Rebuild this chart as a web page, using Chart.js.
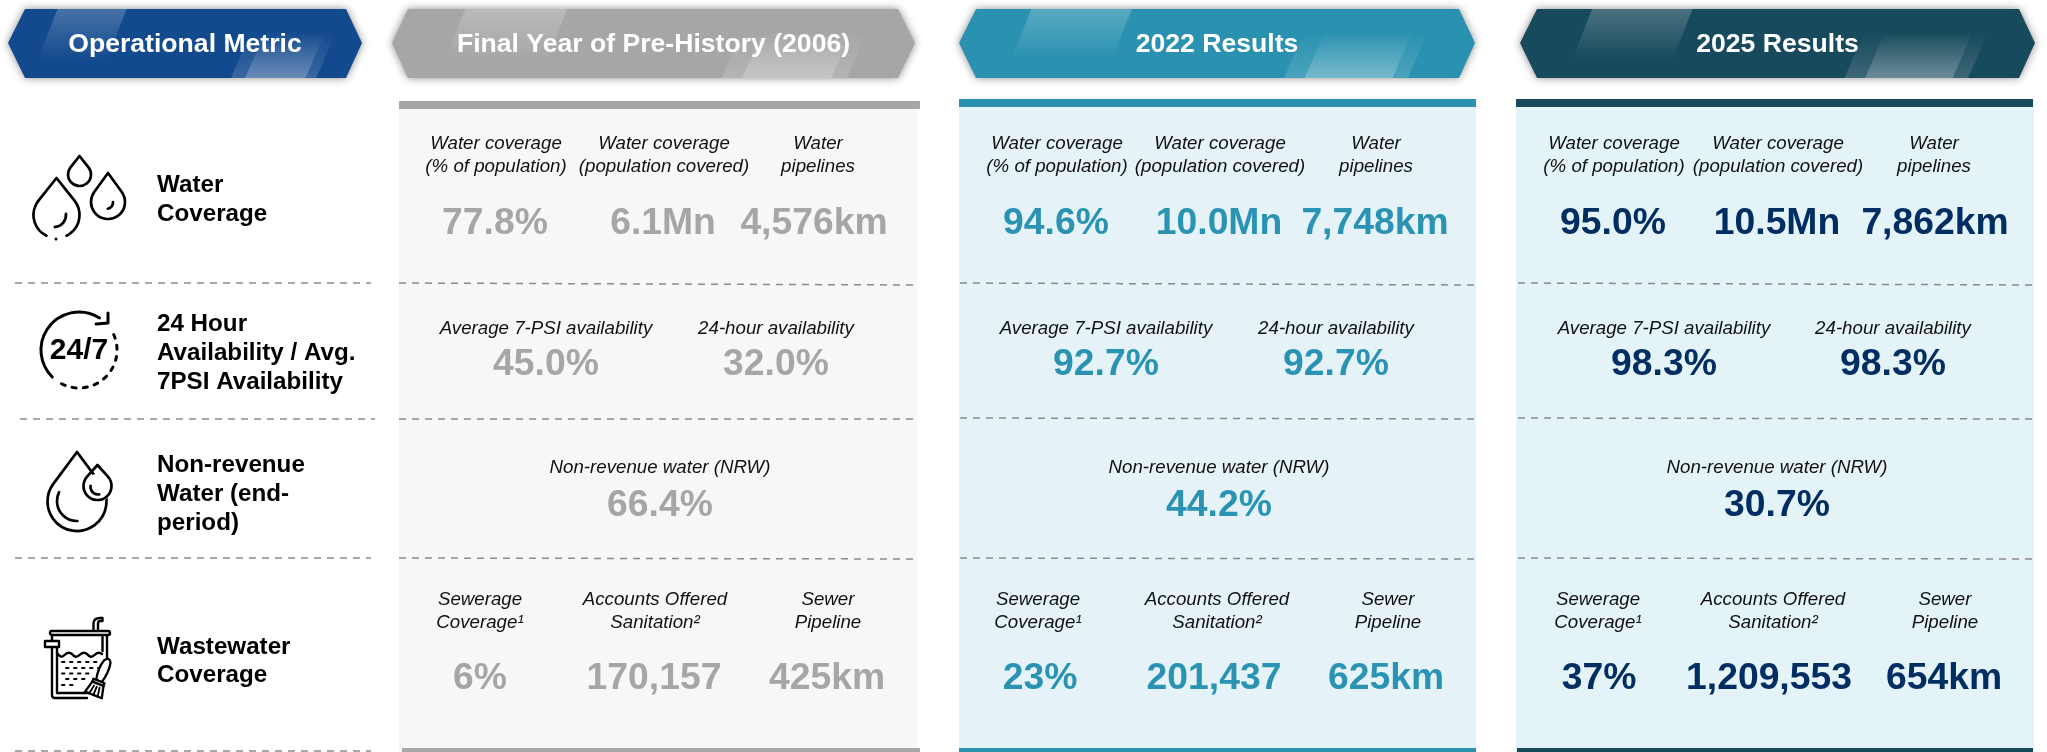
<!DOCTYPE html>
<html>
<head>
<meta charset="utf-8">
<title>Operational metrics</title>
<style>
  html, body { margin: 0; padding: 0; background: #fff; overflow: hidden; }
  canvas { display: block; }
</style>
<script src="https://cdn.jsdelivr.net/npm/chart.js@4/dist/chart.umd.min.js"></script>
</head>
<body>
<canvas id="chart" width="2047" height="752"></canvas>
<script>
// ---- data ----
const columnTitles = ['Operational Metric', 'Final Year of Pre-History (2006)', '2022 Results', '2025 Results'];
const metricNames = [
  ['Water', 'Coverage'],
  ['24 Hour', 'Availability / Avg.', '7PSI Availability'],
  ['Non-revenue', 'Water (end-', 'period)'],
  ['Wastewater', 'Coverage']
];
const cellLabels = [
  ['Water coverage\n(% of population)', 'Water coverage\n(population covered)', 'Water\npipelines'],
  ['Average 7-PSI availability', '24-hour availability'],
  ['Non-revenue water (NRW)'],
  ['Sewerage\nCoverage\u00B9', 'Accounts Offered\nSanitation\u00B2', 'Sewer\nPipeline']
];
const preHistoryValues = [['77.8%', '6.1Mn', '4,576km'], ['45.0%', '32.0%'], ['66.4%'], ['6%', '170,157', '425km']];
const results2022Values = [['94.6%', '10.0Mn', '7,748km'], ['92.7%', '92.7%'], ['44.2%'], ['23%', '201,437', '625km']];
const results2025Values = [['95.0%', '10.5Mn', '7,862km'], ['98.3%', '98.3%'], ['30.7%'], ['37%', '1,209,553', '654km']];

// ---- layout, in axis units (the axes run 0-2047 and 0-752) ----
const labelX = [
  [[496, 664, 818], [546, 776], [660], [480, 655, 828]],
  [[1057, 1220, 1376], [1106, 1336], [1219], [1038, 1217, 1388]],
  [[1614, 1778, 1934], [1664, 1893], [1777], [1598, 1773, 1945]]
];
const valueX = [
  [[495, 663, 814], [546, 776], [660], [480, 654, 827]],
  [[1056, 1219, 1375], [1106, 1336], [1219], [1040, 1214, 1386]],
  [[1613, 1777, 1935], [1664, 1893], [1777], [1599, 1769, 1944]]
];
const labelY = [143.5, 329, 468, 600];
const labelLineGap = 23;
const valueY = [224, 364.5, 506, 679];
const metricX = 157;
const metricY = [[185, 214], [324, 353, 382], [465, 494, 523], [647, 675]];
const banners = [
  { tipL: 8, shL: 25, shR: 346, tipR: 362, color: '#134a8e' },
  { tipL: 392, shL: 408, shR: 898, tipR: 915, color: '#a6a6a6' },
  { tipL: 959, shL: 976, shR: 1459, tipR: 1475, color: '#2a91b0' },
  { tipL: 1520, shL: 1537, shR: 2019, tipR: 2035, color: '#174a5c' }
];
const panels = [
  { left: 399, right: 917, barRight: 920, barTop: 101, footLeft: 402, fill: '#f7f7f7', bar: '#a6a6a6', ink: '#a6a6a6' },
  { left: 959, right: 1476, barRight: 1476, barTop: 99, footLeft: 959, fill: '#e5f3f8', bar: '#2a91b0', ink: '#2a93b3' },
  { left: 1516, right: 2034, barRight: 2033, barTop: 99, footLeft: 1517, fill: '#e3f3f7', bar: '#174a5c', ink: '#002d62' }
];
const dividerSegments = [
  [15, 283, 371, 283], [399, 283, 917, 285], [960, 283, 1476, 285], [1518, 283, 2034, 285],
  [20, 419, 375, 419], [399, 419, 917, 419], [960, 418, 1476, 419], [1518, 418, 2034, 419],
  [15, 558, 371, 558], [399, 558, 917, 559], [960, 558, 1476, 559], [1518, 558, 2034, 559],
  [15, 751, 371, 751]
];

const FONT = '"Liberation Sans", Arial, sans-serif';
const panelValues = [preHistoryValues, results2022Values, results2025Values];

function textPoints(xTable, yList, textTable) {
  const pts = [];
  textTable.forEach(function (row, r) {
    row.forEach(function (txt, c) {
      pts.push({ x: xTable[r][c], y: yList[r], text: txt });
    });
  });
  return pts;
}

const datasets = [];
dividerSegments.forEach(function (s) {
  datasets.push({
    type: 'line', kind: 'divider',
    data: [{ x: s[0], y: s[1] }, { x: s[2], y: s[3] }],
    borderColor: '#8a8a8a', borderWidth: 1.5, borderDash: [7, 6], pointRadius: 0, fill: false
  });
});
panels.forEach(function (p, i) {
  datasets.push({ kind: 'labels', data: textPoints(labelX[i], labelY, cellLabels), pointRadius: 0 });
  datasets.push({ kind: 'values', ink: p.ink, data: textPoints(valueX[i], valueY, panelValues[i]), pointRadius: 0 });
});

function drawBanner(ctx, sx, sy, b, title) {
  const top = sy(9), bot = sy(78), mid = sy(43);
  const L = sx(b.tipL), R = sx(b.tipR), w = R - L;
  function shape() {
    ctx.beginPath();
    ctx.moveTo(L, mid);
    ctx.lineTo(sx(b.shL), top);
    ctx.lineTo(sx(b.shR), top);
    ctx.lineTo(R, mid);
    ctx.lineTo(sx(b.shR), bot);
    ctx.lineTo(sx(b.shL), bot);
    ctx.closePath();
  }
  ctx.save();
  ctx.shadowColor = 'rgba(0,0,0,0.45)';
  ctx.shadowBlur = 9;
  ctx.fillStyle = b.color;
  shape();
  ctx.fill();
  ctx.restore();

  // glass streaks
  ctx.save();
  shape();
  ctx.clip();
  const lean = 20;
  let g = ctx.createLinearGradient(0, top, 0, sy(60));
  g.addColorStop(0, 'rgba(255,255,255,0.22)');
  g.addColorStop(1, 'rgba(255,255,255,0)');
  ctx.fillStyle = g;
  ctx.beginPath();
  ctx.moveTo(L + w * 0.14, top);
  ctx.lineTo(L + w * 0.335, top);
  ctx.lineTo(L + w * 0.335 - lean, sy(60));
  ctx.lineTo(L + w * 0.14 - lean, sy(60));
  ctx.fill();
  function lowerStreak(a, b2, alpha) {
    g = ctx.createLinearGradient(0, sy(32), 0, bot);
    g.addColorStop(0, 'rgba(255,255,255,0)');
    g.addColorStop(1, 'rgba(255,255,255,' + alpha + ')');
    ctx.fillStyle = g;
    ctx.beginPath();
    ctx.moveTo(L + w * a + lean, sy(32));
    ctx.lineTo(L + w * b2 + lean, sy(32));
    ctx.lineTo(L + w * b2, bot);
    ctx.lineTo(L + w * a, bot);
    ctx.fill();
  }
  lowerStreak(0.63, 0.87, 0.16);
  lowerStreak(0.67, 0.84, 0.24);
  ctx.restore();

  ctx.fillStyle = '#fff';
  ctx.font = 'bold 26.6px ' + FONT;
  ctx.textAlign = 'center';
  ctx.textBaseline = 'middle';
  ctx.fillText(title, (L + R) / 2, sy(45));
}

// cx, tip, r, bottom in pixels. gap = leave an opening at the bottom
function dropPath(ctx, cx, tip, bottom, r, gap) {
  const cy = bottom - r;
  const a = Math.acos(r / (cy - tip));
  const right = -Math.PI / 2 + a;
  const left = -Math.PI / 2 - a + Math.PI * 2;
  ctx.beginPath();
  if (gap) {
    ctx.arc(cx, cy, r, Math.PI / 2 + gap, left);
    ctx.lineTo(cx, tip);
    ctx.lineTo(cx + r * Math.cos(right), cy + r * Math.sin(right));
    ctx.arc(cx, cy, r, right, Math.PI / 2 - gap);
  } else {
    ctx.moveTo(cx, tip);
    ctx.arc(cx, cy, r, right, left);
    ctx.closePath();
  }
  ctx.stroke();
}

function drawIcons(ctx, sx, sy) {
  ctx.save();
  ctx.strokeStyle = '#000';
  ctx.fillStyle = '#000';
  ctx.lineWidth = 2.7;
  ctx.lineCap = 'round';
  ctx.lineJoin = 'round';

  // water coverage
  dropPath(ctx, sx(56.5), sy(178), sy(238), sx(23), 0.45);
  ctx.beginPath(); ctx.arc(sx(56), sy(239), 1.5, 0, 7); ctx.fill();
  ctx.beginPath(); ctx.arc(sx(54), sy(215), 12, -0.1, 1.5); ctx.stroke();
  dropPath(ctx, sx(79.5), sy(156), sy(186), sx(11.5));
  dropPath(ctx, sx(108), sy(173), sy(219), sx(17));
  ctx.beginPath(); ctx.arc(sx(106), sy(202), 7, 0.0, 1.3); ctx.stroke();

  // 24/7
  const cx = sx(79), cy = sy(350), r = 38;
  ctx.lineWidth = 3;
  ctx.beginPath(); ctx.arc(cx, cy, r, -1.0, 2.35, true); ctx.stroke();
  ctx.beginPath();
  ctx.moveTo(sx(96), sy(324)); ctx.lineTo(sx(108), sy(323)); ctx.lineTo(sx(108), sy(313));
  ctx.stroke();
  ctx.save();
  ctx.setLineDash([4, 7.2]);
  ctx.beginPath(); ctx.arc(cx, cy, r, -0.42, 2.2); ctx.stroke();
  ctx.restore();
  ctx.font = 'bold 30px ' + FONT;
  ctx.textAlign = 'center';
  ctx.textBaseline = 'middle';
  ctx.fillText('24/7', cx, cy + 1);
  ctx.lineWidth = 2.7;

  // non-revenue water
  dropPath(ctx, sx(77), sy(452), sy(531), sx(29.5));
  ctx.beginPath(); ctx.arc(sx(77), sy(501), 20, 1.55, 3.6); ctx.stroke();
  ctx.save();
  ctx.fillStyle = '#fff';
  ctx.beginPath(); ctx.arc(sx(97.5), sy(488), 14, 0, 7); ctx.fill();
  ctx.restore();
  dropPath(ctx, sx(97.5), sy(465), sy(500), sx(14));
  ctx.beginPath(); ctx.arc(sx(98), sy(487), 7.5, 1.4, 3.3); ctx.stroke();

  // wastewater bucket
  ctx.lineWidth = 2.4;
  ctx.beginPath();
  ctx.moveTo(sx(52), sy(631)); ctx.lineTo(sx(108), sy(631));
  ctx.arc(sx(108), sy(633), 2, -1.57, 1.57);
  ctx.lineTo(sx(52), sy(635));
  ctx.arc(sx(52), sy(633), 2, 1.57, 4.71);
  ctx.stroke();
  ctx.beginPath();
  ctx.moveTo(sx(93.5), sy(630)); ctx.lineTo(sx(93.5), sy(623));
  ctx.quadraticCurveTo(sx(94), sy(618), sx(100), sy(618));
  ctx.lineTo(sx(102.5), sy(618)); ctx.lineTo(sx(102.5), sy(621)); ctx.lineTo(sx(100), sy(621));
  ctx.quadraticCurveTo(sx(98), sy(621), sx(98), sy(624));
  ctx.lineTo(sx(98), sy(630));
  ctx.stroke();
  ctx.beginPath();
  ctx.moveTo(sx(52), sy(636)); ctx.lineTo(sx(52), sy(695));
  ctx.quadraticCurveTo(sx(52), sy(698), sx(55), sy(698));
  ctx.lineTo(sx(87), sy(698));
  ctx.stroke();
  ctx.beginPath();
  ctx.moveTo(sx(57), sy(648)); ctx.lineTo(sx(57), sy(693)); ctx.lineTo(sx(90), sy(693)); ctx.stroke();
  ctx.beginPath();
  ctx.moveTo(sx(107), sy(636)); ctx.lineTo(sx(107), sy(660));
  ctx.moveTo(sx(102.5), sy(636)); ctx.lineTo(sx(102.5), sy(651));
  ctx.stroke();
  ctx.save();
  ctx.fillStyle = '#fff';
  ctx.beginPath();
  ctx.rect(sx(45), sy(641), 14, 6);
  ctx.fill();
  ctx.stroke();
  ctx.restore();
  ctx.beginPath();
  ctx.moveTo(sx(57), sy(653));
  for (let i = 0; i < 3; i++) {
    const x0 = 57 + i * 15;
    ctx.quadraticCurveTo(sx(x0 + 3.7), sy(659), sx(x0 + 7.5), sy(655));
    ctx.quadraticCurveTo(sx(x0 + 11.2), sy(651), sx(x0 + 15), sy(654));
  }
  ctx.stroke();
  // dots in the water
  ctx.lineWidth = 1.9;
  [662, 668, 673.5, 679, 685].forEach(function (y, i) {
    for (let k = 0; k < 5; k++) {
      const x = 62 + (i % 2 ? 4 : 0) + k * 8;
      if (x > 98 || (y > 670 && x > 92 - (y - 670))) continue;
      ctx.beginPath(); ctx.moveTo(sx(x), sy(y)); ctx.lineTo(sx(x + 2.5), sy(y)); ctx.stroke();
    }
  });
  // brush
  ctx.lineWidth = 2.3;
  ctx.save();
  ctx.translate(sx(99), sy(681));
  ctx.rotate(0.38);
  ctx.fillStyle = '#fff';
  ctx.beginPath();
  ctx.moveTo(-3, 0);
  ctx.quadraticCurveTo(-6, -12, -3, -21);
  ctx.quadraticCurveTo(1, -27, 4, -21);
  ctx.quadraticCurveTo(6, -12, 3, 0);
  ctx.closePath();
  ctx.fill();
  ctx.stroke();
  ctx.beginPath();
  ctx.rect(-6, 0, 12, 3);
  ctx.fill();
  ctx.stroke();
  ctx.beginPath();
  ctx.moveTo(-6, 3); ctx.lineTo(-9, 15); ctx.lineTo(9, 15); ctx.lineTo(6, 3);
  ctx.closePath();
  ctx.fill();
  ctx.stroke();
  ctx.lineWidth = 1.8;
  ctx.beginPath();
  ctx.moveTo(-3, 6); ctx.lineTo(-4.5, 15);
  ctx.moveTo(0, 6); ctx.lineTo(0, 15);
  ctx.moveTo(3, 6); ctx.lineTo(4.5, 15);
  ctx.stroke();
  ctx.restore();
  ctx.restore();
}

const tablePlugin = {
  id: 'tablePlugin',
  beforeDatasetsDraw: function (chart) {
    const ctx = chart.ctx;
    const sx = function (v) { return chart.scales.x.getPixelForValue(v); };
    const sy = function (v) { return chart.scales.y.getPixelForValue(v); };
    panels.forEach(function (p) {
      ctx.fillStyle = p.fill;
      ctx.fillRect(sx(p.left), sy(p.barTop), sx(p.right) - sx(p.left), sy(752) - sy(p.barTop));
      ctx.fillStyle = p.bar;
      ctx.fillRect(sx(p.left), sy(p.barTop), sx(p.barRight) - sx(p.left), 8);
      ctx.fillRect(sx(p.footLeft), sy(748), sx(p.barRight) - sx(p.footLeft), 4);
    });
    banners.forEach(function (b, i) { drawBanner(ctx, sx, sy, b, columnTitles[i]); });
    drawIcons(ctx, sx, sy);
  },
  afterDatasetsDraw: function (chart) {
    const ctx = chart.ctx;
    const sx = function (v) { return chart.scales.x.getPixelForValue(v); };
    const sy = function (v) { return chart.scales.y.getPixelForValue(v); };
    ctx.save();
    ctx.textBaseline = 'middle';
    ctx.textAlign = 'left';
    ctx.fillStyle = '#000';
    ctx.font = 'bold 24.2px ' + FONT;
    metricNames.forEach(function (lines, r) {
      lines.forEach(function (line, k) {
        ctx.fillText(line, sx(metricX), sy(metricY[r][k]));
      });
    });
    ctx.textAlign = 'center';
    chart.data.datasets.forEach(function (ds, i) {
      if (ds.kind !== 'labels' && ds.kind !== 'values') return;
      const meta = chart.getDatasetMeta(i);
      meta.data.forEach(function (el, j) {
        const text = ds.data[j].text;
        if (ds.kind === 'values') {
          ctx.fillStyle = ds.ink;
          ctx.font = 'bold 37.3px ' + FONT;
          ctx.fillText(text, el.x, el.y);
        } else {
          ctx.fillStyle = '#111';
          ctx.font = 'italic 18.7px ' + FONT;
          text.split('\n').forEach(function (line, k) {
            ctx.fillText(line, el.x, el.y + k * labelLineGap);
          });
        }
      });
    });
    ctx.restore();
  }
};

new Chart(document.getElementById('chart'), {
  type: 'scatter',
  data: { datasets: datasets },
  plugins: [tablePlugin],
  options: {
    responsive: false,
    animation: false,
    layout: { padding: 0 },
    plugins: { legend: { display: false }, tooltip: { enabled: false } },
    scales: {
      x: { type: 'linear', min: 0, max: 2047, display: false },
      y: { type: 'linear', min: 0, max: 752, reverse: true, display: false }
    }
  }
});
</script>
</body>
</html>
